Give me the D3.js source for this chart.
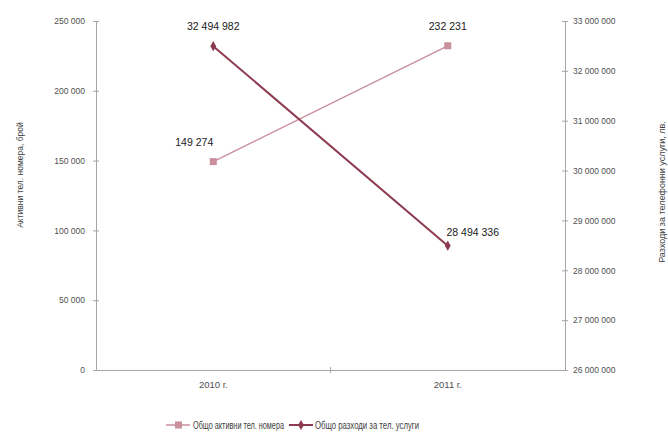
<!DOCTYPE html>
<html><head><meta charset="utf-8">
<script src="https://cdn.jsdelivr.net/npm/d3@7"></script>
<style>
html,body{margin:0;padding:0;background:#fff;}
text{font-family:"Liberation Sans",Arial,sans-serif;fill:#404040;}
</style></head><body>
<svg id="chart" width="668" height="439"></svg>
<script>
const categories = ["2010 г.", "2011 г."];
const activeNumbers = [149274, 232231];
const expenses = [32494982, 28494336];
const leftTicks = [0, 50000, 100000, 150000, 200000, 250000];
const rightTicks = [26000000, 27000000, 28000000, 29000000, 30000000, 31000000, 32000000, 33000000];
const seriesNames = ["Общо активни тел. номера", "Общо разходи за тел. услуги"];
const axisTitles = ["Активни тел. номера, брой", "Разходи за телефонни услуги, лв."];

const svg = d3.select("#chart");
const L = 96, R = 565, T = 21, B = 370;
const fmt = v => d3.format(",")(v).replace(/,/g, " ");

const x = d3.scaleBand().domain(categories).range([L, R]);
const yL = d3.scaleLinear().domain([0, 250000]).range([B, T]);
const yR = d3.scaleLinear().domain([26000000, 33000000]).range([B, T]);

const c1 = "#c98f9c", c2 = "#8c3a50";
const axisColor = "#a6a6a6";

// left axis
const gl = svg.append("g").attr("transform", `translate(${L},0)`)
  .call(d3.axisLeft(yL).tickValues(leftTicks).tickFormat(fmt).tickSize(3).tickPadding(8));
gl.selectAll(".tick line").attr("x2", 3).attr("x1", -3);
// right axis
const gr = svg.append("g").attr("transform", `translate(${R},0)`)
  .call(d3.axisRight(yR).tickValues(rightTicks).tickFormat(fmt).tickSize(3).tickPadding(5));
gr.selectAll(".tick line").attr("x1", -3).attr("x2", 3);
// bottom axis
const gb = svg.append("g").attr("transform", `translate(0,${B})`)
  .call(d3.axisBottom(x).tickSize(0).tickPadding(11));
// middle tick
svg.append("line").attr("x1", (L+R)/2).attr("x2", (L+R)/2).attr("y1", B-3).attr("y2", B+3).attr("stroke", axisColor);
svg.selectAll(".domain").attr("stroke", axisColor).attr("stroke-width", 1);
svg.selectAll(".tick line").attr("stroke", axisColor);
svg.selectAll(".tick text").attr("font-size", 8.5).style("fill", "#505050")
  .attr("font-family", "Liberation Sans, Arial, sans-serif");
gb.selectAll(".tick text").attr("font-size", 9.5);

// axis titles
svg.append("text").attr("transform", `translate(23,175) rotate(-90)`)
  .attr("text-anchor", "middle").attr("font-size", 8.5).text(axisTitles[0]);
svg.append("text").attr("transform", `translate(665,192) rotate(-90)`)
  .attr("text-anchor", "middle").attr("font-size", 9).text(axisTitles[1]);

const cx = c => x(c) + x.bandwidth()/2;

// series 1
const line1 = d3.line().x((d,i)=>cx(categories[i])).y(d=>yL(d));
svg.append("path").datum(activeNumbers).attr("d", line1).attr("fill","none").attr("stroke", c1).attr("stroke-width", 1.5);
svg.selectAll(".m1").data(activeNumbers).enter().append("rect")
  .attr("x",(d,i)=>cx(categories[i])-3.5).attr("y",d=>yL(d)-3.5).attr("width",7).attr("height",7).attr("fill", c1);

// series 2
const line2 = d3.line().x((d,i)=>cx(categories[i])).y(d=>yR(d));
svg.append("path").datum(expenses).attr("d", line2).attr("fill","none").attr("stroke", c2).attr("stroke-width", 2);
svg.selectAll(".m2").data(expenses).enter().append("path")
  .attr("d", d3.symbol().type(d3.symbolDiamond).size(30))
  .attr("transform",(d,i)=>`translate(${cx(categories[i])},${yR(d)})`).attr("fill", c2);

// data labels
svg.selectAll(".l1").data(activeNumbers).enter().append("text")
  .attr("x",(d,i)=> i===0 ? cx(categories[i]) - 19 : cx(categories[i]))
  .attr("y",(d,i)=> yL(d) - 16)
  .attr("text-anchor","middle").attr("font-size",10.5).style("fill","#202020").text(fmt);
svg.selectAll(".l2").data(expenses).enter().append("text")
  .attr("x",(d,i)=> i===0 ? cx(categories[i]) : cx(categories[i]) + 25)
  .attr("y",(d,i)=> i===0 ? yR(d) - 16 : yR(d) - 10)
  .attr("text-anchor","middle").attr("font-size",10.5).style("fill","#202020").text(fmt);

// legend
const lg = svg.append("g").attr("transform","translate(0,425)");
lg.append("line").attr("x1",166).attr("x2",190).attr("y1",0).attr("y2",0).attr("stroke",c1).attr("stroke-width",1.5);
lg.append("rect").attr("x",175).attr("y",-3.5).attr("width",7).attr("height",7).attr("fill",c1);
lg.append("text").attr("x",193).attr("y",4).attr("font-size",10)
  .attr("textLength",91).attr("lengthAdjust","spacingAndGlyphs").text(seriesNames[0]);
lg.append("line").attr("x1",289).attr("x2",313).attr("y1",0).attr("y2",0).attr("stroke",c2).attr("stroke-width",2);
lg.append("path").attr("d", d3.symbol().type(d3.symbolDiamond).size(30)).attr("transform","translate(301,0)").attr("fill",c2);
lg.append("text").attr("x",315).attr("y",4).attr("font-size",10)
  .attr("textLength",104).attr("lengthAdjust","spacingAndGlyphs").text(seriesNames[1]);
</script>
</body></html>
